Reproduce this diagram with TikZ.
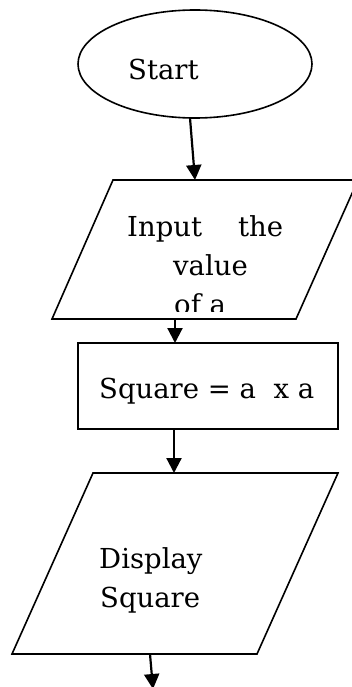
\documentclass[tikz,border=0pt]{standalone}
\usepackage{fontspec}
\setmainfont{DejaVu Serif}
\usetikzlibrary{shapes.geometric,arrows.meta}
\begin{document}
\begin{tikzpicture}[x=1pt,y=-1pt,
  shapeline/.style={draw=black,line width=1.6pt},
  flowarrow/.style={line width=2.2pt,-{Triangle[length=15pt,width=15pt]}},
  lbl/.style={anchor=base west,inner sep=0pt,font=\fontsize{27.5}{39}\selectfont}]
\useasboundingbox (0,0) rectangle (352,687);
% Start ellipse
\node[ellipse,shapeline,minimum width=234pt,minimum height=108pt,inner sep=0pt] (start) at (195,64) {};
\node[lbl] (starttxt) at (128,80) {Start};
% Input parallelogram
\draw[shapeline] (113,180) -- (358,180) -- (296,319) -- (52,319) -- cycle;
\node[lbl] (in1) at (127,236) {\makebox[156pt][l]{Input\hfill the}};
\node[lbl] (in2) at (173,275) {value};
\begin{scope}
\clip (0,0) rectangle (352,311);
\node[lbl] (in3) at (174,314) {of a};
\end{scope}
% Process rectangle
\node[shapeline,rectangle,minimum width=260pt,minimum height=86pt,inner sep=0pt] (sq) at (208,386) {};
\node[lbl] (sqtxt) at (99,398) {Square = a\ \ x a};
% Output parallelogram
\draw[shapeline] (93,473) -- (338,473) -- (257,654) -- (12,654) -- cycle;
\node[lbl] (out1) at (99,568) {Display};
\node[lbl] (out2) at (100,607) {Square};
% connector points
\coordinate (a1s) at (190,118);
\coordinate (a1e) at (195,180);
\coordinate (a2s) at (175,319);
\coordinate (a2e) at (175,343);
\coordinate (a3s) at (174,429);
\coordinate (a3e) at (174,473);
\coordinate (a4s) at (150,654);
\coordinate (a4e) at (153,689);
\draw[flowarrow] (a1s) -- (a1e);
\draw[flowarrow] (a2s) -- (a2e);
\draw[flowarrow] (a3s) -- (a3e);
\draw[flowarrow] (a4s) -- (a4e);
\end{tikzpicture}
\end{document}
